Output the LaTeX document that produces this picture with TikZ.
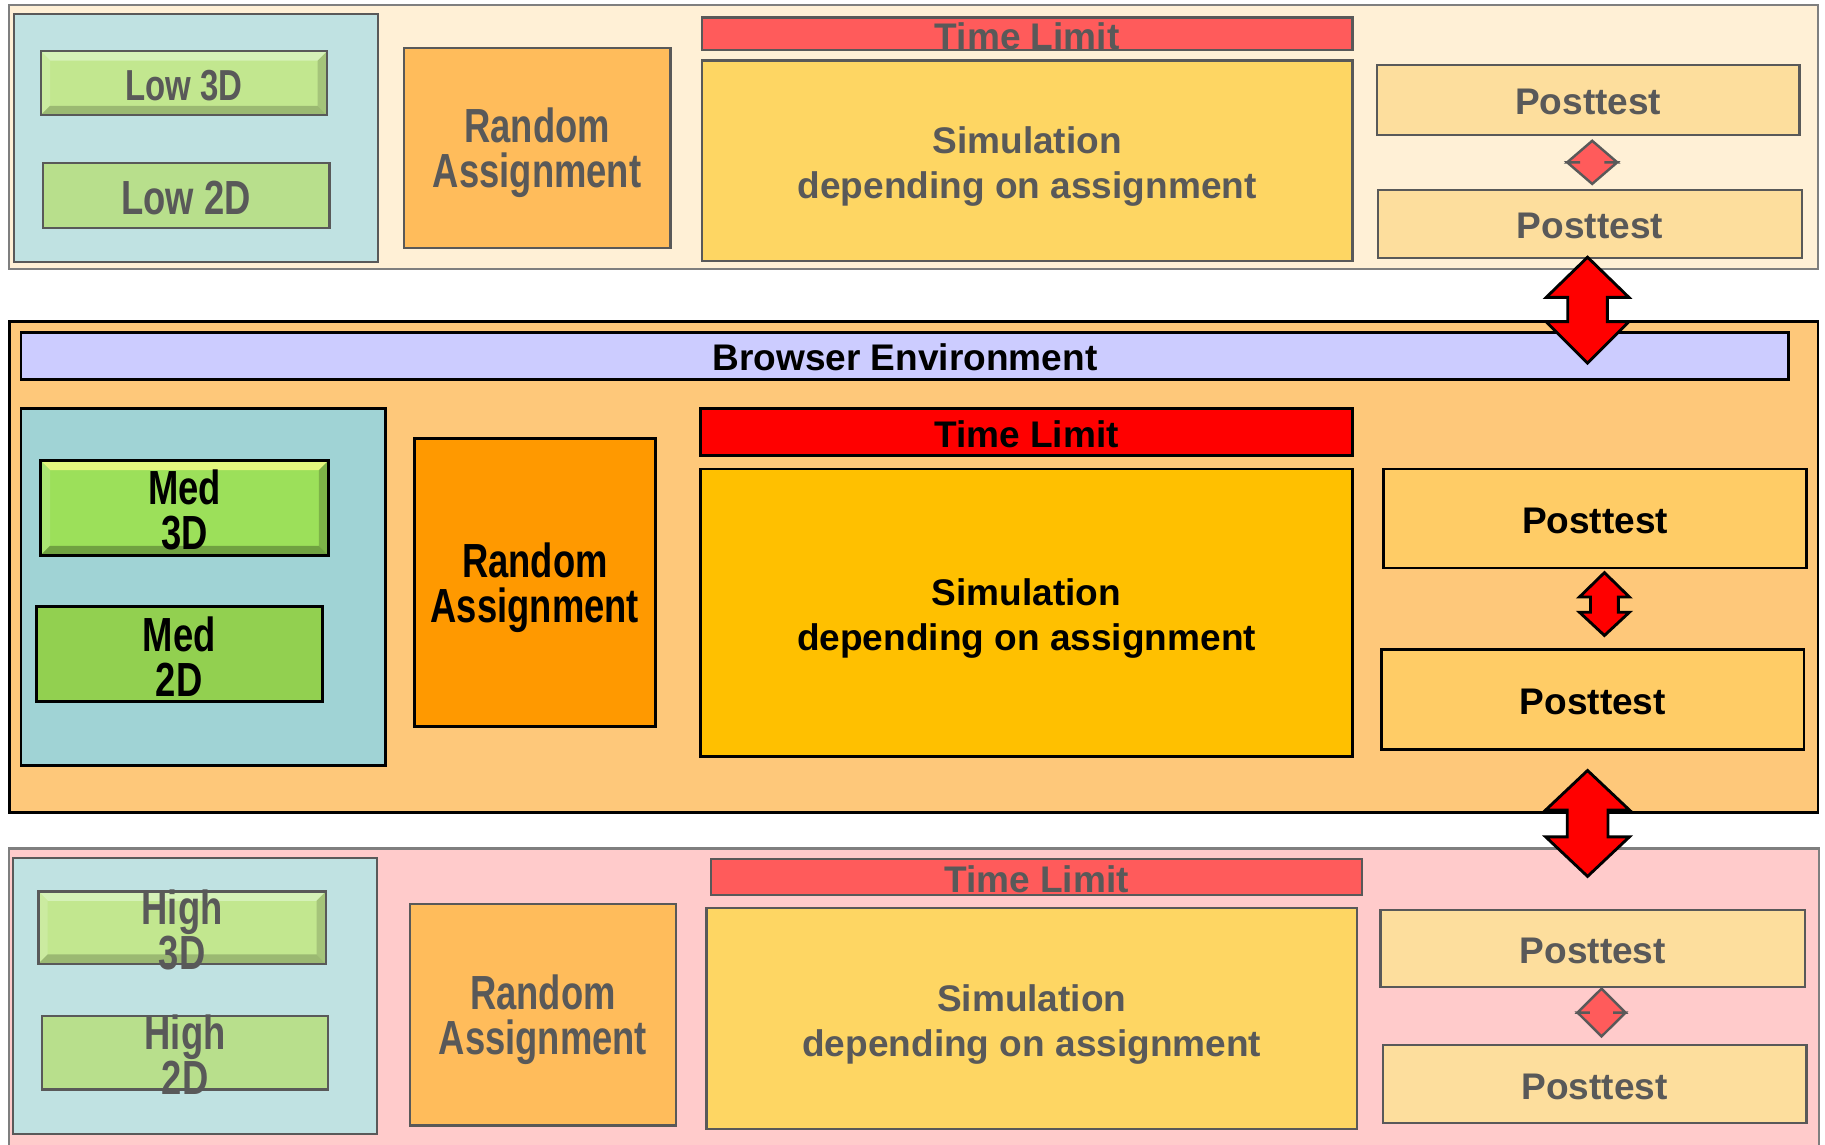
\documentclass[tikz,border=0pt]{standalone}
\usepackage{fontspec}
\setmainfont{Liberation Sans}
\newfontfamily\narrowfont[FakeStretch=0.76]{Liberation Sans}
\usetikzlibrary{fit}

% colours
\definecolor{cTopBg}{HTML}{FFF0D6}
\definecolor{cMidBg}{HTML}{FEC87A}
\definecolor{cBotBg}{HTML}{FFCBCB}
\definecolor{cTealF}{HTML}{C0E2E2}
\definecolor{cTealS}{HTML}{A0D3D5}
\definecolor{cGreen3F}{HTML}{C2E78F}
\definecolor{cGreen2F}{HTML}{B8DF8C}
\definecolor{cGreen3S}{HTML}{9CE05A}
\definecolor{cGreen2S}{HTML}{92D050}
\definecolor{cRandF}{HTML}{FFBC5B}
\definecolor{cRandS}{HTML}{FF9900}
\definecolor{cTimeF}{HTML}{FF5B5B}
\definecolor{cTimeS}{HTML}{FF0000}
\definecolor{cSimF}{HTML}{FED663}
\definecolor{cSimS}{HTML}{FFC000}
\definecolor{cPostF}{HTML}{FDDE9D}
\definecolor{cPostS}{HTML}{FFCC66}
\definecolor{cBrowser}{HTML}{CCCCFF}
\definecolor{eGray}{HTML}{595959}
\definecolor{pGray}{HTML}{7F7F7F}
\definecolor{tGray}{HTML}{595959}

\tikzset{
  box/.style={inner sep=0pt, outer sep=0pt},
  faint/.style={box, draw=eGray, line width=0.55pt},
  strong/.style={box, draw=black, line width=0.7pt},
  lbl/.style={inner sep=0pt, align=center, yshift=-0.02cm, font=\bfseries\fontsize{9.05}{11.1}\selectfont},
  simlbl/.style={lbl, yshift=-0.03cm},
  nlbl/.style={inner sep=0pt, align=center, yshift=-0.02cm, font=\narrowfont\bfseries\fontsize{11.7}{11}\selectfont},
  ralbl/.style={nlbl, yshift=-0.025cm},
  grey text/.style={text=tGray},
  % bevelled button: top, left, right, bottom facet colours
  bevel/.style n args={4}{path picture={
    \coordinate (pNW) at (path picture bounding box.north west);
    \coordinate (pNE) at (path picture bounding box.north east);
    \coordinate (pSW) at (path picture bounding box.south west);
    \coordinate (pSE) at (path picture bounding box.south east);
    \fill[#1] (pNW) -- (pNE) -- ([shift={(-0.08cm,-0.08cm)}]pNE) -- ([shift={(0.08cm,-0.08cm)}]pNW) -- cycle;
    \fill[#2] (pNW) -- ([shift={(0.08cm,-0.08cm)}]pNW) -- ([shift={(0.08cm,0.08cm)}]pSW) -- (pSW) -- cycle;
    \fill[#3] (pNE) -- ([shift={(-0.08cm,-0.08cm)}]pNE) -- ([shift={(-0.08cm,0.08cm)}]pSE) -- (pSE) -- cycle;
    \fill[#4] (pSW) -- ([shift={(0.08cm,0.08cm)}]pSW) -- ([shift={(-0.08cm,0.08cm)}]pSE) -- (pSE) -- cycle;
  }},
  bigarrow/.style={fill=red, draw=black, line width=0.7pt, line join=miter},
  smallarrow/.style={fill=cTimeF, draw=eGray, line width=0.6pt, line join=miter},
}

% double block arrow: [style] cx, top tip, upper head base, lower head base, bottom tip, head half width, shaft half width
\newcommand\dbarrow[8][]{%
  \filldraw[#1] (#2,#3) -- (#2+#7,#4) -- (#2+#8,#4) -- (#2+#8,#5) -- (#2+#7,#5) -- (#2,#6)
    -- (#2-#7,#5) -- (#2-#8,#5) -- (#2-#8,#4) -- (#2-#7,#4) -- cycle;}

\begin{document}
\begin{tikzpicture}[x=0.01cm,y=-0.01cm]
\clip (0,0) rectangle (1568,983);
\fill[white] (0,0) rectangle (1568,983);

% ---------------- low prior knowledge panel ----------------
\node[box, draw=pGray, line width=0.55pt, fill=cTopBg, fit={(8,4)(1562,231)}] (topPanel) {};
\node[faint, fill=cTealF, fit={(12,12)(325,225)}] (topGroups) {};
\node[faint, fill=cGreen3F, bevel={{fill=green!5!cGreen3F!60!white}}{{fill=cGreen3F!85!white}}{{fill=cGreen3F!85!black}}{{fill=cGreen3F!80!black}}, fit={(35,44)(281,99)}] (low3) {};
\node[inner sep=0pt, yshift=-0.02cm, font=\narrowfont\bfseries\fontsize{10.6}{11}\selectfont, grey text] (low3t) at (low3) {Low 3D};
\node[faint, fill=cGreen2F, fit={(37,140)(283,196)}] (low2) {};
\node[nlbl, grey text] (low2t) at (low2) {Low 2D};
\node[faint, fill=cRandF, fit={(347,41)(576,213)}] (topRand) {};
\node[ralbl, grey text] (topRandt) at (topRand) {Random\\Assignment};
\node[faint, fill=cTimeF, fit={(603,15)(1162,43)}] (topTime) {};
\node[lbl, grey text] (topTimet) at (topTime) {Time Limit};
\node[faint, fill=cSimF, fit={(603,52)(1162,224)}] (topSim) {};
\node[simlbl, grey text] (topSimt) at (topSim) {Simulation\\depending on assignment};
\node[faint, fill=cPostF, fit={(1183,56)(1546,116)}] (topPostA) {};
\node[lbl, grey text] (topPostAt) at (topPostA) {Posttest};
\node[faint, fill=cPostF, fit={(1184,163)(1548,222)}] (topPostB) {};
\node[lbl, grey text] (topPostBt) at (topPostB) {Posttest};

% ---------------- medium prior knowledge panel ----------------
\node[strong, fill=cMidBg, fit={(8,276)(1562,698)}] (midPanel) {};
\node[strong, fill=cBrowser, fit={(18,286)(1537,326)}] (browser) {};
\node[lbl, yshift=0.01cm] (browsert) at (browser) {Browser Environment};
\node[strong, fill=cTealS, fit={(18,351)(331,658)}] (midGroups) {};
\node[strong, fill=cGreen3S, bevel={{fill=cGreen3S!45!yellow!60!white}}{{fill=cGreen3S!85!white}}{{fill=cGreen3S!80!black}}{{fill=cGreen3S!72!black}}, fit={(35,396)(282,477)}] (med3) {};
\node[nlbl] (med3t) at (med3) {Med\\3D};
\node[strong, fill=cGreen2S, fit={(31,521)(277,603)}] (med2) {};
\node[nlbl] (med2t) at (med2) {Med\\2D};
\node[strong, fill=cRandS, fit={(356,377)(563,624)}] (midRand) {};
\node[ralbl] (midRandt) at (midRand) {Random\\Assignment};
\node[strong, fill=cTimeS, fit={(602,351)(1162,391)}] (midTime) {};
\node[lbl] (midTimet) at (midTime) {Time Limit};
\node[strong, fill=cSimS, fit={(602,403)(1162,650)}] (midSim) {};
\node[simlbl] (midSimt) at (midSim) {Simulation\\depending on assignment};
\node[strong, fill=cPostS, fit={(1189,403)(1552,488)}] (midPostA) {};
\node[lbl] (midPostAt) at (midPostA) {Posttest};
\node[strong, fill=cPostS, fit={(1187,558)(1550,644)}] (midPostB) {};
\node[lbl] (midPostBt) at (midPostB) {Posttest};

% ---------------- high prior knowledge panel ----------------
\node[box, draw=pGray, line width=0.55pt, fill=cBotBg, fit={(8,729)(1563,995)}] (botPanel) {};
\node[faint, fill=cTealF, fit={(11,737)(324,974)}] (botGroups) {};
\node[faint, fill=cGreen3F, bevel={{fill=green!5!cGreen3F!60!white}}{{fill=cGreen3F!85!white}}{{fill=cGreen3F!85!black}}{{fill=cGreen3F!80!black}}, fit={(33,766)(280,828)}] (high3) {};
\node[nlbl, grey text] (high3t) at (high3) {High\\3D};
\node[faint, fill=cGreen2F, fit={(36,873)(282,936)}] (high2) {};
\node[nlbl, grey text] (high2t) at (high2) {High\\2D};
\node[faint, fill=cRandF, fit={(352,777)(581,967)}] (botRand) {};
\node[ralbl, grey text] (botRandt) at (botRand) {Random\\Assignment};
\node[faint, fill=cTimeF, fit={(611,738)(1170,769)}] (botTime) {};
\node[lbl, grey text] (botTimet) at (botTime) {Time Limit};
\node[faint, fill=cSimF, fit={(607,780)(1166,970)}] (botSim) {};
\node[simlbl, grey text] (botSimt) at (botSim) {Simulation\\depending on assignment};
\node[faint, fill=cPostF, fit={(1186,782)(1551,848)}] (botPostA) {};
\node[lbl, grey text] (botPostAt) at (botPostA) {Posttest};
\node[faint, fill=cPostF, fit={(1188,898)(1552,965)}] (botPostB) {};
\node[lbl, grey text] (botPostBt) at (botPostB) {Posttest};

% ---------------- double arrows between posttests and panels ----------------
\dbarrow[smallarrow]{1368}{121}{139.5}{139.5}{158}{21.5}{10.5}
\dbarrow[bigarrow]{1364}{221}{255.5}{276.5}{312}{35.5}{17}
\dbarrow[bigarrow]{1378.5}{492}{513}{526}{546}{21.5}{12}
\dbarrow[bigarrow]{1364}{662}{696}{719}{753}{36}{17.5}
\dbarrow[smallarrow]{1376}{849.5}{870}{870}{890.5}{20.6}{10}
\end{tikzpicture}
\end{document}
